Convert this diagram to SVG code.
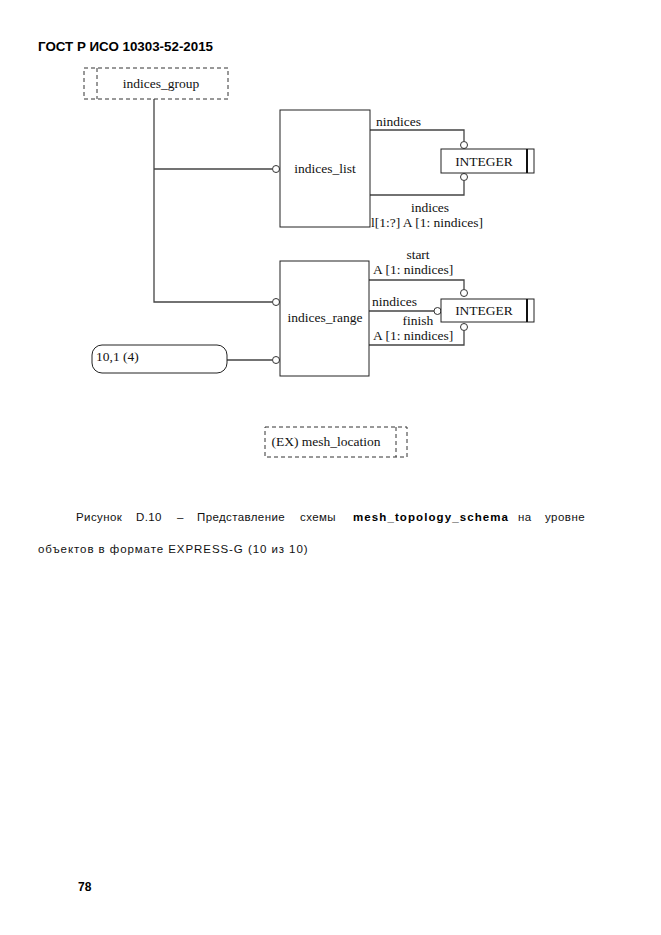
<svg xmlns="http://www.w3.org/2000/svg" width="661" height="935" viewBox="0 0 661 935">
<style>
.s{font-family:"Liberation Serif",serif;font-size:13.5px;fill:#111}
.c{font-family:"Liberation Sans",Arial,sans-serif;font-size:11.5px;letter-spacing:0.4px;fill:#111}
.b{font-family:"Liberation Sans",Arial,sans-serif;font-weight:bold;fill:#000}
.box{fill:#fff;stroke:#222;stroke-width:1}
.dash{fill:none;stroke:#333;stroke-width:1;stroke-dasharray:4,3}
.ln{fill:none;stroke:#444;stroke-width:1.3}
.o{fill:#fff;stroke:#333;stroke-width:1}
</style>
<rect width="661" height="935" fill="#fff"/>
<text class="b" x="38" y="51" font-size="13" textLength="175" lengthAdjust="spacingAndGlyphs">ГОСТ Р ИСО 10303-52-2015</text>

<g id="connectors">
<polyline class="ln" points="154,99 154,302 272,302"/>
<line class="ln" x1="154" y1="169" x2="272" y2="169"/>
<polyline class="ln" points="370,130 464,130 464,141"/>
<polyline class="ln" points="370,195 464,195 464,181"/>
<polyline class="ln" points="369,280 464,280 464,289"/>
<line class="ln" x1="369" y1="311" x2="434" y2="311"/>
<polyline class="ln" points="369,345 464,345 464,331"/>
<line class="ln" x1="227" y1="360" x2="272" y2="360"/>
<circle class="o" cx="276" cy="169" r="3.5"/>
<circle class="o" cx="276" cy="302" r="3.5"/>
<circle class="o" cx="276" cy="360" r="3.5"/>
<circle class="o" cx="464" cy="145" r="3.5"/>
<circle class="o" cx="464" cy="177" r="3.5"/>
<circle class="o" cx="464" cy="293" r="3.5"/>
<circle class="o" cx="437.5" cy="311" r="3.5"/>
<circle class="o" cx="464" cy="327" r="3.5"/>
<text class="s" x="376" y="126">nindices</text>
<text class="s" x="430" y="212" text-anchor="middle">indices</text>
<text class="s" x="371" y="227">l[1:?] A [1: nindices]</text>
<text class="s" x="418" y="259" text-anchor="middle">start</text>
<text class="s" x="373" y="274">A [1: nindices]</text>
<text class="s" x="372" y="306">nindices</text>
<text class="s" x="418" y="325" text-anchor="middle">finish</text>
<text class="s" x="373" y="340">A [1: nindices]</text>
</g>

<g id="indices_group">
<rect class="dash" x="84" y="68" width="144" height="31"/>
<line class="dash" x1="97" y1="68" x2="97" y2="99"/>
<text class="s" x="161" y="88" text-anchor="middle">indices_group</text>
</g>

<g id="indices_list">
<rect class="box" x="280" y="110" width="90" height="117"/>
<text class="s" x="325" y="173" text-anchor="middle">indices_list</text>
</g>

<g id="integer1">
<rect class="box" x="441" y="149" width="93" height="24"/>
<line x1="527" y1="149" x2="527" y2="173" stroke="#111" stroke-width="2"/>
<text class="s" x="484" y="166" text-anchor="middle">INTEGER</text>
</g>

<g id="indices_range">
<rect class="box" x="280" y="261" width="89" height="115"/>
<text class="s" x="325" y="322" text-anchor="middle">indices_range</text>
</g>

<g id="integer2">
<rect class="box" x="441" y="299" width="93" height="23"/>
<line x1="527" y1="299" x2="527" y2="322" stroke="#111" stroke-width="2"/>
<text class="s" x="484" y="315" text-anchor="middle">INTEGER</text>
</g>

<g id="page_ref">
<rect class="box" x="92" y="345" width="135" height="28" rx="10" ry="10"/>
<text class="s" x="96" y="361">10,1 (4)</text>
</g>

<g id="mesh_location">
<rect class="dash" x="265" y="427" width="142" height="30"/>
<line class="dash" x1="396" y1="427" x2="396" y2="457"/>
<text class="s" x="326" y="446" text-anchor="middle">(EX) mesh_location</text>
</g>

<text class="c" x="76" y="521">Рисунок</text>
<text class="c" x="136" y="521">D.10</text>
<text class="c" x="177" y="521">–</text>
<text class="c" x="197" y="521" textLength="88" lengthAdjust="spacing">Представление</text>
<text class="c" x="300" y="521">схемы</text>
<text class="b" x="353" y="521" font-size="11.5" textLength="155" lengthAdjust="spacing">mesh_topology_schema</text>
<text class="c" x="518" y="521">на</text>
<text class="c" x="545" y="521" textLength="40" lengthAdjust="spacing">уровне</text>
<text class="c" x="38" y="553" textLength="270" lengthAdjust="spacing">объектов в формате EXPRESS-G (10 из 10)</text>
<text class="b" x="78" y="891" font-size="12">78</text>
</svg>
